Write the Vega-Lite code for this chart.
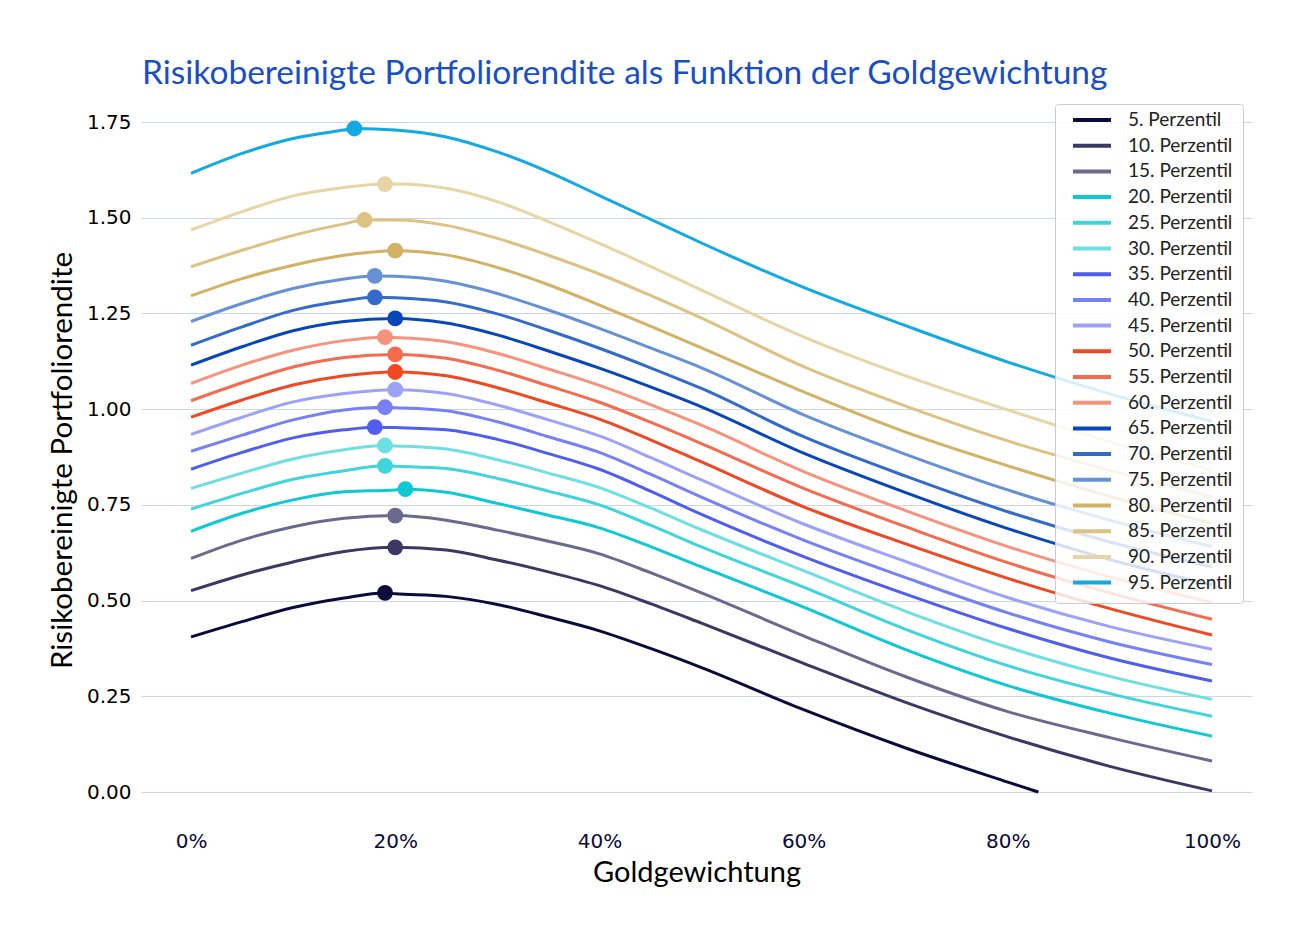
{
  "$schema": "https://vega.github.io/schema/vega-lite/v6.json",
  "autosize": {"type": "none"},
  "width": 1111,
  "height": 720,
  "padding": {"left": 141, "top": 100, "right": 41, "bottom": 127},
  "background": "#ffffff",
  "title": {"text": "Risikobereinigte Portfoliorendite als Funktion der Goldgewichtung", "anchor": "start", "frame": "group", "font": "Lato", "fontSize": 33.5, "fontWeight": "normal", "color": "#1a4fc4", "baseline": "alphabetic", "offset": -17, "dx": 1},
  "datasets": {
    "curves": [
      {"p":"5. Perzentil","x":0,"y":0.405},{"p":"5. Perzentil","x":0.05,"y":0.445},{"p":"5. Perzentil","x":0.10,"y":0.482},{"p":"5. Perzentil","x":0.15,"y":0.507},{"p":"5. Perzentil","x":0.19,"y":0.520},{"p":"5. Perzentil","x":0.20,"y":0.518},{"p":"5. Perzentil","x":0.25,"y":0.511},{"p":"5. Perzentil","x":0.30,"y":0.490},{"p":"5. Perzentil","x":0.35,"y":0.457},{"p":"5. Perzentil","x":0.40,"y":0.421},{"p":"5. Perzentil","x":0.45,"y":0.375},{"p":"5. Perzentil","x":0.50,"y":0.325},{"p":"5. Perzentil","x":0.60,"y":0.215},{"p":"5. Perzentil","x":0.70,"y":0.115},{"p":"5. Perzentil","x":0.80,"y":0.026},{"p":"5. Perzentil","x":0.83,"y":0.0},
      {"p":"10. Perzentil","x":0,"y":0.526},{"p":"10. Perzentil","x":0.05,"y":0.567},{"p":"10. Perzentil","x":0.10,"y":0.601},{"p":"10. Perzentil","x":0.15,"y":0.628},{"p":"10. Perzentil","x":0.20,"y":0.639},{"p":"10. Perzentil","x":0.25,"y":0.632},{"p":"10. Perzentil","x":0.30,"y":0.606},{"p":"10. Perzentil","x":0.35,"y":0.575},{"p":"10. Perzentil","x":0.40,"y":0.539},{"p":"10. Perzentil","x":0.45,"y":0.492},{"p":"10. Perzentil","x":0.50,"y":0.441},{"p":"10. Perzentil","x":0.60,"y":0.336},{"p":"10. Perzentil","x":0.70,"y":0.234},{"p":"10. Perzentil","x":0.80,"y":0.144},{"p":"10. Perzentil","x":0.90,"y":0.067},{"p":"10. Perzentil","x":1.0,"y":0.003},
      {"p":"15. Perzentil","x":0,"y":0.610},{"p":"15. Perzentil","x":0.05,"y":0.658},{"p":"15. Perzentil","x":0.10,"y":0.693},{"p":"15. Perzentil","x":0.15,"y":0.715},{"p":"15. Perzentil","x":0.20,"y":0.722},{"p":"15. Perzentil","x":0.25,"y":0.710},{"p":"15. Perzentil","x":0.30,"y":0.684},{"p":"15. Perzentil","x":0.35,"y":0.655},{"p":"15. Perzentil","x":0.40,"y":0.622},{"p":"15. Perzentil","x":0.45,"y":0.573},{"p":"15. Perzentil","x":0.50,"y":0.520},{"p":"15. Perzentil","x":0.60,"y":0.408},{"p":"15. Perzentil","x":0.70,"y":0.301},{"p":"15. Perzentil","x":0.80,"y":0.210},{"p":"15. Perzentil","x":0.90,"y":0.142},{"p":"15. Perzentil","x":1.0,"y":0.081},
      {"p":"20. Perzentil","x":0,"y":0.681},{"p":"20. Perzentil","x":0.05,"y":0.728},{"p":"20. Perzentil","x":0.10,"y":0.763},{"p":"20. Perzentil","x":0.15,"y":0.784},{"p":"20. Perzentil","x":0.20,"y":0.789},{"p":"20. Perzentil","x":0.21,"y":0.791},{"p":"20. Perzentil","x":0.25,"y":0.783},{"p":"20. Perzentil","x":0.30,"y":0.754},{"p":"20. Perzentil","x":0.35,"y":0.723},{"p":"20. Perzentil","x":0.40,"y":0.690},{"p":"20. Perzentil","x":0.45,"y":0.641},{"p":"20. Perzentil","x":0.50,"y":0.588},{"p":"20. Perzentil","x":0.60,"y":0.483},{"p":"20. Perzentil","x":0.70,"y":0.372},{"p":"20. Perzentil","x":0.80,"y":0.278},{"p":"20. Perzentil","x":0.90,"y":0.206},{"p":"20. Perzentil","x":1.0,"y":0.146},
      {"p":"25. Perzentil","x":0,"y":0.739},{"p":"25. Perzentil","x":0.05,"y":0.780},{"p":"25. Perzentil","x":0.10,"y":0.817},{"p":"25. Perzentil","x":0.15,"y":0.839},{"p":"25. Perzentil","x":0.19,"y":0.852},{"p":"25. Perzentil","x":0.20,"y":0.851},{"p":"25. Perzentil","x":0.25,"y":0.845},{"p":"25. Perzentil","x":0.30,"y":0.819},{"p":"25. Perzentil","x":0.35,"y":0.786},{"p":"25. Perzentil","x":0.40,"y":0.750},{"p":"25. Perzentil","x":0.45,"y":0.697},{"p":"25. Perzentil","x":0.50,"y":0.640},{"p":"25. Perzentil","x":0.60,"y":0.535},{"p":"25. Perzentil","x":0.70,"y":0.425},{"p":"25. Perzentil","x":0.80,"y":0.330},{"p":"25. Perzentil","x":0.90,"y":0.257},{"p":"25. Perzentil","x":1.0,"y":0.198},
      {"p":"30. Perzentil","x":0,"y":0.793},{"p":"30. Perzentil","x":0.05,"y":0.833},{"p":"30. Perzentil","x":0.10,"y":0.870},{"p":"30. Perzentil","x":0.15,"y":0.894},{"p":"30. Perzentil","x":0.19,"y":0.905},{"p":"30. Perzentil","x":0.20,"y":0.904},{"p":"30. Perzentil","x":0.25,"y":0.896},{"p":"30. Perzentil","x":0.30,"y":0.868},{"p":"30. Perzentil","x":0.35,"y":0.833},{"p":"30. Perzentil","x":0.40,"y":0.795},{"p":"30. Perzentil","x":0.45,"y":0.742},{"p":"30. Perzentil","x":0.50,"y":0.685},{"p":"30. Perzentil","x":0.60,"y":0.578},{"p":"30. Perzentil","x":0.70,"y":0.472},{"p":"30. Perzentil","x":0.80,"y":0.378},{"p":"30. Perzentil","x":0.90,"y":0.302},{"p":"30. Perzentil","x":1.0,"y":0.242},
      {"p":"35. Perzentil","x":0,"y":0.843},{"p":"35. Perzentil","x":0.05,"y":0.887},{"p":"35. Perzentil","x":0.10,"y":0.925},{"p":"35. Perzentil","x":0.15,"y":0.946},{"p":"35. Perzentil","x":0.18,"y":0.953},{"p":"35. Perzentil","x":0.20,"y":0.952},{"p":"35. Perzentil","x":0.25,"y":0.946},{"p":"35. Perzentil","x":0.30,"y":0.921},{"p":"35. Perzentil","x":0.35,"y":0.884},{"p":"35. Perzentil","x":0.40,"y":0.843},{"p":"35. Perzentil","x":0.45,"y":0.786},{"p":"35. Perzentil","x":0.50,"y":0.725},{"p":"35. Perzentil","x":0.60,"y":0.615},{"p":"35. Perzentil","x":0.70,"y":0.517},{"p":"35. Perzentil","x":0.80,"y":0.427},{"p":"35. Perzentil","x":0.90,"y":0.350},{"p":"35. Perzentil","x":1.0,"y":0.290},
      {"p":"40. Perzentil","x":0,"y":0.890},{"p":"40. Perzentil","x":0.05,"y":0.932},{"p":"40. Perzentil","x":0.10,"y":0.972},{"p":"40. Perzentil","x":0.15,"y":0.998},{"p":"40. Perzentil","x":0.19,"y":1.005},{"p":"40. Perzentil","x":0.20,"y":1.004},{"p":"40. Perzentil","x":0.25,"y":0.996},{"p":"40. Perzentil","x":0.30,"y":0.967},{"p":"40. Perzentil","x":0.35,"y":0.928},{"p":"40. Perzentil","x":0.40,"y":0.887},{"p":"40. Perzentil","x":0.45,"y":0.830},{"p":"40. Perzentil","x":0.50,"y":0.770},{"p":"40. Perzentil","x":0.60,"y":0.658},{"p":"40. Perzentil","x":0.70,"y":0.560},{"p":"40. Perzentil","x":0.80,"y":0.468},{"p":"40. Perzentil","x":0.90,"y":0.392},{"p":"40. Perzentil","x":1.0,"y":0.333},
      {"p":"45. Perzentil","x":0,"y":0.934},{"p":"45. Perzentil","x":0.05,"y":0.979},{"p":"45. Perzentil","x":0.10,"y":1.019},{"p":"45. Perzentil","x":0.15,"y":1.041},{"p":"45. Perzentil","x":0.20,"y":1.051},{"p":"45. Perzentil","x":0.25,"y":1.041},{"p":"45. Perzentil","x":0.30,"y":1.011},{"p":"45. Perzentil","x":0.35,"y":0.972},{"p":"45. Perzentil","x":0.40,"y":0.930},{"p":"45. Perzentil","x":0.45,"y":0.874},{"p":"45. Perzentil","x":0.50,"y":0.815},{"p":"45. Perzentil","x":0.60,"y":0.700},{"p":"45. Perzentil","x":0.70,"y":0.602},{"p":"45. Perzentil","x":0.80,"y":0.508},{"p":"45. Perzentil","x":0.90,"y":0.432},{"p":"45. Perzentil","x":1.0,"y":0.373},
      {"p":"50. Perzentil","x":0,"y":0.979},{"p":"50. Perzentil","x":0.05,"y":1.024},{"p":"50. Perzentil","x":0.10,"y":1.063},{"p":"50. Perzentil","x":0.15,"y":1.087},{"p":"50. Perzentil","x":0.20,"y":1.097},{"p":"50. Perzentil","x":0.25,"y":1.087},{"p":"50. Perzentil","x":0.30,"y":1.056},{"p":"50. Perzentil","x":0.35,"y":1.016},{"p":"50. Perzentil","x":0.40,"y":0.974},{"p":"50. Perzentil","x":0.45,"y":0.920},{"p":"50. Perzentil","x":0.50,"y":0.862},{"p":"50. Perzentil","x":0.60,"y":0.745},{"p":"50. Perzentil","x":0.70,"y":0.648},{"p":"50. Perzentil","x":0.80,"y":0.558},{"p":"50. Perzentil","x":0.90,"y":0.479},{"p":"50. Perzentil","x":1.0,"y":0.410},
      {"p":"55. Perzentil","x":0,"y":1.022},{"p":"55. Perzentil","x":0.05,"y":1.069},{"p":"55. Perzentil","x":0.10,"y":1.110},{"p":"55. Perzentil","x":0.15,"y":1.135},{"p":"55. Perzentil","x":0.20,"y":1.143},{"p":"55. Perzentil","x":0.25,"y":1.133},{"p":"55. Perzentil","x":0.30,"y":1.102},{"p":"55. Perzentil","x":0.35,"y":1.061},{"p":"55. Perzentil","x":0.40,"y":1.018},{"p":"55. Perzentil","x":0.45,"y":0.966},{"p":"55. Perzentil","x":0.50,"y":0.910},{"p":"55. Perzentil","x":0.60,"y":0.793},{"p":"55. Perzentil","x":0.70,"y":0.693},{"p":"55. Perzentil","x":0.80,"y":0.599},{"p":"55. Perzentil","x":0.90,"y":0.520},{"p":"55. Perzentil","x":1.0,"y":0.451},
      {"p":"60. Perzentil","x":0,"y":1.067},{"p":"60. Perzentil","x":0.05,"y":1.115},{"p":"60. Perzentil","x":0.10,"y":1.154},{"p":"60. Perzentil","x":0.15,"y":1.179},{"p":"60. Perzentil","x":0.19,"y":1.188},{"p":"60. Perzentil","x":0.20,"y":1.187},{"p":"60. Perzentil","x":0.25,"y":1.176},{"p":"60. Perzentil","x":0.30,"y":1.146},{"p":"60. Perzentil","x":0.35,"y":1.105},{"p":"60. Perzentil","x":0.40,"y":1.062},{"p":"60. Perzentil","x":0.45,"y":1.012},{"p":"60. Perzentil","x":0.50,"y":0.958},{"p":"60. Perzentil","x":0.60,"y":0.837},{"p":"60. Perzentil","x":0.70,"y":0.735},{"p":"60. Perzentil","x":0.80,"y":0.641},{"p":"60. Perzentil","x":0.90,"y":0.562},{"p":"60. Perzentil","x":1.0,"y":0.495},
      {"p":"65. Perzentil","x":0,"y":1.115},{"p":"65. Perzentil","x":0.05,"y":1.163},{"p":"65. Perzentil","x":0.10,"y":1.205},{"p":"65. Perzentil","x":0.15,"y":1.229},{"p":"65. Perzentil","x":0.20,"y":1.237},{"p":"65. Perzentil","x":0.25,"y":1.225},{"p":"65. Perzentil","x":0.30,"y":1.194},{"p":"65. Perzentil","x":0.35,"y":1.152},{"p":"65. Perzentil","x":0.40,"y":1.107},{"p":"65. Perzentil","x":0.45,"y":1.058},{"p":"65. Perzentil","x":0.50,"y":1.006},{"p":"65. Perzentil","x":0.60,"y":0.885},{"p":"65. Perzentil","x":0.70,"y":0.782},{"p":"65. Perzentil","x":0.80,"y":0.688},{"p":"65. Perzentil","x":0.90,"y":0.607},{"p":"65. Perzentil","x":1.0,"y":0.541},
      {"p":"70. Perzentil","x":0,"y":1.167},{"p":"70. Perzentil","x":0.05,"y":1.215},{"p":"70. Perzentil","x":0.10,"y":1.258},{"p":"70. Perzentil","x":0.15,"y":1.283},{"p":"70. Perzentil","x":0.18,"y":1.292},{"p":"70. Perzentil","x":0.20,"y":1.291},{"p":"70. Perzentil","x":0.25,"y":1.280},{"p":"70. Perzentil","x":0.30,"y":1.249},{"p":"70. Perzentil","x":0.35,"y":1.206},{"p":"70. Perzentil","x":0.40,"y":1.159},{"p":"70. Perzentil","x":0.45,"y":1.108},{"p":"70. Perzentil","x":0.50,"y":1.054},{"p":"70. Perzentil","x":0.60,"y":0.928},{"p":"70. Perzentil","x":0.70,"y":0.825},{"p":"70. Perzentil","x":0.80,"y":0.732},{"p":"70. Perzentil","x":0.90,"y":0.653},{"p":"70. Perzentil","x":1.0,"y":0.588},
      {"p":"75. Perzentil","x":0,"y":1.229},{"p":"75. Perzentil","x":0.05,"y":1.276},{"p":"75. Perzentil","x":0.10,"y":1.315},{"p":"75. Perzentil","x":0.15,"y":1.340},{"p":"75. Perzentil","x":0.18,"y":1.348},{"p":"75. Perzentil","x":0.20,"y":1.347},{"p":"75. Perzentil","x":0.25,"y":1.334},{"p":"75. Perzentil","x":0.30,"y":1.302},{"p":"75. Perzentil","x":0.35,"y":1.259},{"p":"75. Perzentil","x":0.40,"y":1.211},{"p":"75. Perzentil","x":0.45,"y":1.160},{"p":"75. Perzentil","x":0.50,"y":1.108},{"p":"75. Perzentil","x":0.60,"y":0.985},{"p":"75. Perzentil","x":0.70,"y":0.882},{"p":"75. Perzentil","x":0.80,"y":0.789},{"p":"75. Perzentil","x":0.90,"y":0.710},{"p":"75. Perzentil","x":1.0,"y":0.641},
      {"p":"80. Perzentil","x":0,"y":1.296},{"p":"80. Perzentil","x":0.05,"y":1.341},{"p":"80. Perzentil","x":0.10,"y":1.376},{"p":"80. Perzentil","x":0.15,"y":1.402},{"p":"80. Perzentil","x":0.20,"y":1.414},{"p":"80. Perzentil","x":0.25,"y":1.403},{"p":"80. Perzentil","x":0.30,"y":1.370},{"p":"80. Perzentil","x":0.35,"y":1.325},{"p":"80. Perzentil","x":0.40,"y":1.272},{"p":"80. Perzentil","x":0.45,"y":1.217},{"p":"80. Perzentil","x":0.50,"y":1.160},{"p":"80. Perzentil","x":0.60,"y":1.045},{"p":"80. Perzentil","x":0.70,"y":0.940},{"p":"80. Perzentil","x":0.80,"y":0.852},{"p":"80. Perzentil","x":0.90,"y":0.772},{"p":"80. Perzentil","x":1.0,"y":0.702},
      {"p":"85. Perzentil","x":0,"y":1.372},{"p":"85. Perzentil","x":0.05,"y":1.415},{"p":"85. Perzentil","x":0.10,"y":1.454},{"p":"85. Perzentil","x":0.15,"y":1.484},{"p":"85. Perzentil","x":0.17,"y":1.494},{"p":"85. Perzentil","x":0.20,"y":1.494},{"p":"85. Perzentil","x":0.25,"y":1.480},{"p":"85. Perzentil","x":0.30,"y":1.446},{"p":"85. Perzentil","x":0.35,"y":1.402},{"p":"85. Perzentil","x":0.40,"y":1.353},{"p":"85. Perzentil","x":0.45,"y":1.297},{"p":"85. Perzentil","x":0.50,"y":1.238},{"p":"85. Perzentil","x":0.60,"y":1.111},{"p":"85. Perzentil","x":0.70,"y":1.008},{"p":"85. Perzentil","x":0.80,"y":0.917},{"p":"85. Perzentil","x":0.90,"y":0.840},{"p":"85. Perzentil","x":1.0,"y":0.771},
      {"p":"90. Perzentil","x":0,"y":1.468},{"p":"90. Perzentil","x":0.05,"y":1.516},{"p":"90. Perzentil","x":0.10,"y":1.557},{"p":"90. Perzentil","x":0.15,"y":1.579},{"p":"90. Perzentil","x":0.19,"y":1.588},{"p":"90. Perzentil","x":0.20,"y":1.588},{"p":"90. Perzentil","x":0.25,"y":1.577},{"p":"90. Perzentil","x":0.30,"y":1.542},{"p":"90. Perzentil","x":0.35,"y":1.490},{"p":"90. Perzentil","x":0.40,"y":1.433},{"p":"90. Perzentil","x":0.45,"y":1.373},{"p":"90. Perzentil","x":0.50,"y":1.311},{"p":"90. Perzentil","x":0.60,"y":1.189},{"p":"90. Perzentil","x":0.70,"y":1.087},{"p":"90. Perzentil","x":0.80,"y":0.998},{"p":"90. Perzentil","x":0.90,"y":0.915},{"p":"90. Perzentil","x":1.0,"y":0.840},
      {"p":"95. Perzentil","x":0,"y":1.616},{"p":"95. Perzentil","x":0.05,"y":1.668},{"p":"95. Perzentil","x":0.10,"y":1.707},{"p":"95. Perzentil","x":0.15,"y":1.729},{"p":"95. Perzentil","x":0.16,"y":1.733},{"p":"95. Perzentil","x":0.20,"y":1.729},{"p":"95. Perzentil","x":0.25,"y":1.711},{"p":"95. Perzentil","x":0.30,"y":1.672},{"p":"95. Perzentil","x":0.35,"y":1.620},{"p":"95. Perzentil","x":0.40,"y":1.558},{"p":"95. Perzentil","x":0.45,"y":1.496},{"p":"95. Perzentil","x":0.50,"y":1.434},{"p":"95. Perzentil","x":0.60,"y":1.318},{"p":"95. Perzentil","x":0.70,"y":1.218},{"p":"95. Perzentil","x":0.80,"y":1.123},{"p":"95. Perzentil","x":0.90,"y":1.040},{"p":"95. Perzentil","x":1.0,"y":0.968}
    ],
    "peaks": [
      {"p":"5. Perzentil","x":0.19,"y":0.520},
      {"p":"10. Perzentil","x":0.20,"y":0.639},
      {"p":"15. Perzentil","x":0.20,"y":0.722},
      {"p":"20. Perzentil","x":0.21,"y":0.791},
      {"p":"25. Perzentil","x":0.19,"y":0.852},
      {"p":"30. Perzentil","x":0.19,"y":0.905},
      {"p":"35. Perzentil","x":0.18,"y":0.953},
      {"p":"40. Perzentil","x":0.19,"y":1.005},
      {"p":"45. Perzentil","x":0.20,"y":1.051},
      {"p":"50. Perzentil","x":0.20,"y":1.097},
      {"p":"55. Perzentil","x":0.20,"y":1.143},
      {"p":"60. Perzentil","x":0.19,"y":1.188},
      {"p":"65. Perzentil","x":0.20,"y":1.237},
      {"p":"70. Perzentil","x":0.18,"y":1.292},
      {"p":"75. Perzentil","x":0.18,"y":1.348},
      {"p":"80. Perzentil","x":0.20,"y":1.414},
      {"p":"85. Perzentil","x":0.17,"y":1.494},
      {"p":"90. Perzentil","x":0.19,"y":1.588},
      {"p":"95. Perzentil","x":0.16,"y":1.733}
    ]
  },
  "encoding": {
    "x": {"field": "x", "type": "quantitative", "scale": {"domain": [-0.049, 1.0392], "nice": false, "zero": false},
      "axis": {"values": [0, 0.2, 0.4, 0.6, 0.8, 1.0], "format": ".0%", "title": "Goldgewichtung", "grid": false, "domain": false, "ticks": false, "labelFont": "DejaVu Sans", "labelFontSize": 20, "labelColor": "#0a0a3a", "labelPadding": 11, "titleFont": "Lato", "titleFontSize": 29, "titleFontWeight": "normal", "titleColor": "#000000", "titlePadding": 7}},
    "y": {"field": "y", "type": "quantitative", "scale": {"domain": [-0.0731, 1.8075], "nice": false, "zero": false},
      "axis": {"values": [0, 0.25, 0.5, 0.75, 1.0, 1.25, 1.5, 1.75], "format": ".2f", "title": "Risikobereinigte Portfoliorendite", "grid": true, "gridColor": "#cdd7e1", "gridWidth": 1, "domain": false, "ticks": false, "labelFont": "DejaVu Sans", "labelFontSize": 20, "labelColor": "#000000", "labelPadding": 10, "titleFont": "Lato", "titleFontSize": 29.5, "titleFontWeight": "normal", "titleColor": "#000000", "titlePadding": 9}},
    "color": {"field": "p", "type": "nominal",
      "scale": {"domain": ["5. Perzentil","10. Perzentil","15. Perzentil","20. Perzentil","25. Perzentil","30. Perzentil","35. Perzentil","40. Perzentil","45. Perzentil","50. Perzentil","55. Perzentil","60. Perzentil","65. Perzentil","70. Perzentil","75. Perzentil","80. Perzentil","85. Perzentil","90. Perzentil","95. Perzentil"],
        "range": ["#0b0b3b","#3b3863","#6a6a8e","#0dc9d3","#40d5dc","#6ee0e3","#4f5ef0","#7682f4","#9ca3f7","#f24822","#f46c4d","#f7927c","#0846bb","#326bc9","#6791d6","#d3b264","#dec283","#e8d5a6","#12aae2"]}}
  },
  "layer": [
    {
      "data": {"name": "curves"},
      "mark": {"type": "line", "strokeWidth": 3, "interpolate": "monotone"},
      "encoding": {
        "color": {"field": "p", "type": "nominal", "sort": null,
          "legend": {"title": null, "orient": "none", "legendX": 914, "legendY": 4, "symbolType": "stroke", "symbolSize": 1444, "symbolStrokeWidth": 4, "clipHeight": 12, "rowPadding": 6.7, "padding": 10, "symbolOffset": 6, "labelOffset": 15, "labelFont": "Lato", "labelFontSize": 19, "labelColor": "#222222", "fillColor": "rgba(255,255,255,0.82)", "strokeColor": "#cccccc", "cornerRadius": 3}}
      }
    },
    {
      "data": {"name": "peaks"},
      "mark": {"type": "point", "filled": true, "opacity": 1, "size": 250},
      "encoding": {"color": {"field": "p", "type": "nominal", "legend": null}}
    }
  ],
  "config": {"view": {"stroke": null}}
}
